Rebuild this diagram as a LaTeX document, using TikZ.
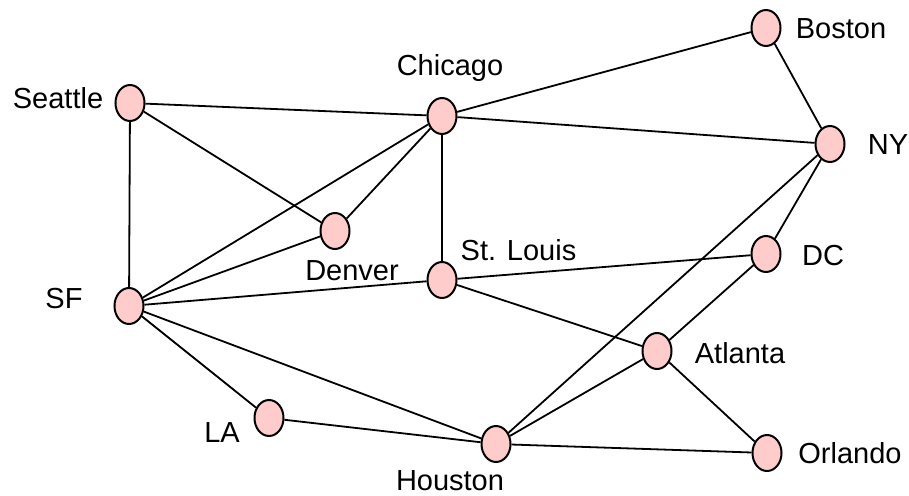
\documentclass[tikz,border=0pt]{standalone}
\usepackage{fontspec}
\setmainfont{Liberation Sans}
\usetikzlibrary{shapes.geometric}

\begin{document}
\begin{tikzpicture}[x=1pt, y=-1pt, line width=1.8pt]
  \tikzstyle{city} = [draw, ellipse, fill={rgb,255:red,255;green,204;blue,204},
                      line width=2pt, inner sep=0pt, minimum width=29pt, minimum height=36pt]
  \tikzstyle{citylabel} = [anchor=base, inner sep=0pt, font=\fontsize{29}{34}\selectfont]
  \useasboundingbox (0,0) rectangle (909,495);

  \node [city] (seattle) at (130,103) {};
  \node [city] (chicago) at (442,116) {};
  \node [city] (boston)  at (766,28)  {};
  \node [city] (ny)      at (830,144) {};
  \node [city] (denver)  at (335,231) {};
  \node [city] (stlouis) at (442,280) {};
  \node [city] (dc)      at (766,254) {};
  \node [city] (sf)      at (129,306) {};
  \node [city] (atlanta) at (657,351) {};
  \node [city] (la)      at (269,418) {};
  \node [city] (houston) at (496,444) {};
  \node [city] (orlando) at (767,453) {};

  \node [citylabel] (seattle-l) at (58,108)    {Seattle};
  \node [citylabel] (chicago-l) at (450,75)    {Chicago};
  \node [citylabel] (boston-l)  at (841,38)    {Boston};
  \node [citylabel] (ny-l)      at (888,154)   {NY};
  \node [citylabel] (denver-l)  at (352,280)   {Denver};
  \node [citylabel] (stlouis-l) at (518.5,260) {St. Louis};
  \node [citylabel] (dc-l)      at (823,265)   {DC};
  \node [citylabel] (sf-l)      at (64,308)    {SF};
  \node [citylabel] (atlanta-l) at (740,363)   {Atlanta};
  \node [citylabel] (la-l)      at (222,442)   {LA};
  \node [citylabel] (houston-l) at (450,490)   {Houston};
  \node [citylabel] (orlando-l) at (850,463)   {Orlando};

  \draw (seattle) -- (chicago);
  \draw (seattle) -- (sf);
  \draw (seattle) -- (denver);
  \draw (chicago) -- (boston);
  \draw (chicago) -- (ny);
  \draw (chicago) -- (denver);
  \draw (chicago) -- (stlouis);
  \draw (chicago) -- (sf);
  \draw (boston) -- (ny);
  \draw (ny) -- (dc);
  \draw (ny) -- (houston);
  \draw (sf) -- (denver);
  \draw (sf) -- (stlouis);
  \draw (sf) -- (la);
  \draw (sf) -- (houston);
  \draw (stlouis) -- (dc);
  \draw (stlouis) -- (atlanta);
  \draw (dc) -- (atlanta);
  \draw (atlanta) -- (houston);
  \draw (atlanta) -- (orlando);
  \draw (la) -- (houston);
  \draw (houston) -- (orlando);
\end{tikzpicture}
\end{document}
